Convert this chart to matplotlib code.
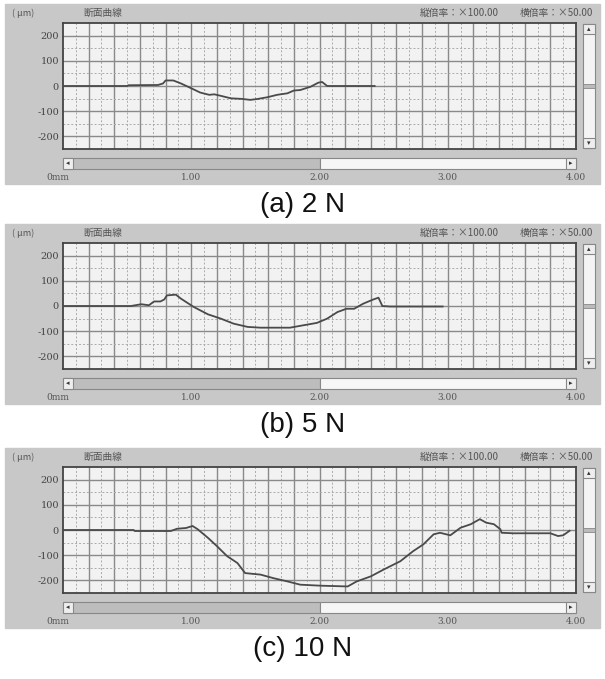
import numpy as np
import matplotlib
matplotlib.use("Agg")
import matplotlib.pyplot as plt
from matplotlib.patches import Rectangle

plt.rcParams['font.family'] = ['Noto Sans CJK JP', 'DejaVu Sans']

# profile data, x in mm, height in um
a_x = [0, 0.50, 0.51, 0.74, 0.78, 0.80, 0.86, 0.92, 1.00, 1.07, 1.14, 1.18, 1.23, 1.31,
       1.39, 1.46, 1.51, 1.59, 1.67, 1.75, 1.80, 1.85, 1.93, 1.99, 2.02, 2.06, 2.43]
a_y = [0, 0, 3, 4, 10, 22, 22, 10, -9, -26, -35, -33, -39, -49,
       -51, -55, -52, -45, -35, -29, -18, -16, -3, 13, 16, 0, 0]

b_x = [0, 0.53, 0.61, 0.67, 0.71, 0.76, 0.79, 0.81, 0.88, 0.92, 1.02, 1.13, 1.23, 1.33,
       1.44, 1.54, 1.64, 1.77, 1.88, 1.98, 2.06, 2.14, 2.21, 2.27, 2.34, 2.42, 2.46, 2.49,
       2.55, 2.96]
b_y = [0, 0, 7, 3, 18, 18, 26, 42, 45, 29, -4, -33, -50, -70,
       -83, -86, -86, -86, -76, -67, -50, -24, -11, -11, 9, 26, 33, 0,
       -2, -2]

c_x = [0, 0.55, 0.56, 0.84, 0.89, 0.96, 1.01, 1.05, 1.13, 1.20, 1.28, 1.36, 1.42, 1.54,
       1.64, 1.75, 1.85, 2.01, 2.22, 2.29, 2.40, 2.50, 2.63, 2.73, 2.81, 2.89, 2.94, 3.02,
       3.10, 3.18, 3.25, 3.30, 3.36, 3.41, 3.42, 3.51, 3.80, 3.86, 3.90, 3.95]
c_y = [0, 0, -4, -4, 5, 8, 16, 3, -31, -64, -104, -131, -171, -177,
       -191, -204, -217, -221, -224, -204, -184, -157, -124, -84, -57, -17, -11, -21,
       9, 23, 43, 29, 23, 3, -11, -13, -13, -24, -21, -3]

captions = ["(a) 2 N", "(b) 5 N", "(c) 10 N"]
y_ticks = [200, 100, 0, -100, -200]
x_labels = ["0mm", "1.00", "2.00", "3.00", "4.00"]

W, H = 605, 679
fig = plt.figure(figsize=(W / 100, H / 100), dpi=100)

# background axes in pixel coordinates for the window decoration
bg = fig.add_axes([0, 0, 1, 1])
bg.set_xlim(0, W)
bg.set_ylim(H, 0)
bg.axis("off")

GRAY = "#c8c8c8"
TXT = "#555555"


def px_axes(x0, y0, x1, y1):
    return fig.add_axes([x0 / W, 1 - y1 / H, (x1 - x0) / W, (y1 - y0) / H])


def draw_panel(off, xs, ys, caption):
    # window
    bg.add_patch(Rectangle((5, off + 4), 595, 180, color=GRAY, zorder=0))
    bg.text(12, off + 13, "( μm)", fontsize=6.5, color=TXT, va="center")
    bg.text(83, off + 13, "断面曲線", fontsize=7, color=TXT, va="center")
    bg.text(420, off + 13, "縦倍率：×100.00", fontsize=7, color=TXT, va="center")
    bg.text(520, off + 13, "横倍率：×50.00", fontsize=7, color=TXT, va="center")

    # horizontal scrollbar
    bg.add_patch(Rectangle((63, off + 158), 257, 11, facecolor="#bdbdbd",
                           edgecolor="#888888", lw=0.8, zorder=1))
    bg.add_patch(Rectangle((320, off + 158), 256, 11, facecolor="#f6f6f6",
                           edgecolor="#888888", lw=0.8, zorder=1))
    bg.add_patch(Rectangle((63, off + 158), 10, 11, facecolor="#eeeeee",
                           edgecolor="#888888", lw=0.8, zorder=2))
    bg.add_patch(Rectangle((566, off + 158), 10, 11, facecolor="#eeeeee",
                           edgecolor="#888888", lw=0.8, zorder=2))
    bg.text(68, off + 163.5, "◂", fontsize=5, ha="center", va="center", color="#333333",
            family="DejaVu Sans")
    bg.text(571, off + 163.5, "▸", fontsize=5, ha="center", va="center", color="#333333",
            family="DejaVu Sans")

    # vertical scrollbar
    bg.add_patch(Rectangle((583, off + 24), 12, 124, facecolor="#f4f4f4",
                           edgecolor="#888888", lw=0.8, zorder=1))
    bg.add_patch(Rectangle((583, off + 24), 12, 10, facecolor="#eeeeee",
                           edgecolor="#888888", lw=0.8, zorder=2))
    bg.add_patch(Rectangle((583, off + 138), 12, 10, facecolor="#eeeeee",
                           edgecolor="#888888", lw=0.8, zorder=2))
    bg.add_patch(Rectangle((583, off + 84), 12, 4, facecolor="#bbbbbb",
                           edgecolor="#888888", lw=0.6, zorder=2))
    bg.text(589, off + 29, "▴", fontsize=5, ha="center", va="center", color="#333333",
            family="DejaVu Sans")
    bg.text(589, off + 143, "▾", fontsize=5, ha="center", va="center", color="#333333",
            family="DejaVu Sans")

    # x labels under scrollbar
    for i, lab in enumerate(x_labels):
        xp = 63 + i * 128.25
        if i == 0:
            xp = 58
        bg.text(xp, off + 178, lab, fontsize=6.5, color=TXT, ha="center", va="center",
                family="DejaVu Serif")

    # caption
    bg.text(303, off + 205, caption, fontsize=20, ha="center", va="center",
            family="Liberation Sans", color="#111111")

    # plot area
    ax = px_axes(63, off + 23, 576, off + 149)
    ax.set_facecolor("#f2f2f2")
    ax.set_xlim(0, 4)
    ax.set_ylim(-250, 250)
    for xv in np.arange(0.2, 4.0, 0.2):
        ax.axvline(xv, color="#8a8a8a", lw=1.0, zorder=1)
    for xv in np.arange(0.1, 4.0, 0.2):
        ax.axvline(xv, color="#aaaaaa", lw=0.7, ls=(0, (2, 2)), zorder=1)
    for yv in y_ticks:
        ax.axhline(yv, color="#8a8a8a", lw=1.0, zorder=1)
    for yv in [150, 50, -50, -150]:
        ax.axhline(yv, color="#aaaaaa", lw=0.7, ls=(0, (2, 2)), zorder=1)
    ax.plot(xs, ys, color="#4a4a4a", lw=1.3, zorder=3)
    ax.set_xticks([])
    ax.set_yticks(y_ticks)
    ax.set_yticklabels([str(v) for v in y_ticks], fontsize=7, color="#444444",
                       family="DejaVu Serif")
    ax.tick_params(axis="y", length=0, pad=3)
    for s in ax.spines.values():
        s.set_color("#444444")
        s.set_linewidth(1.3)


draw_panel(0, a_x, a_y, captions[0])
draw_panel(220, b_x, b_y, captions[1])
draw_panel(444, c_x, c_y, captions[2])

fig.savefig("out.png", dpi=100, facecolor="white")
